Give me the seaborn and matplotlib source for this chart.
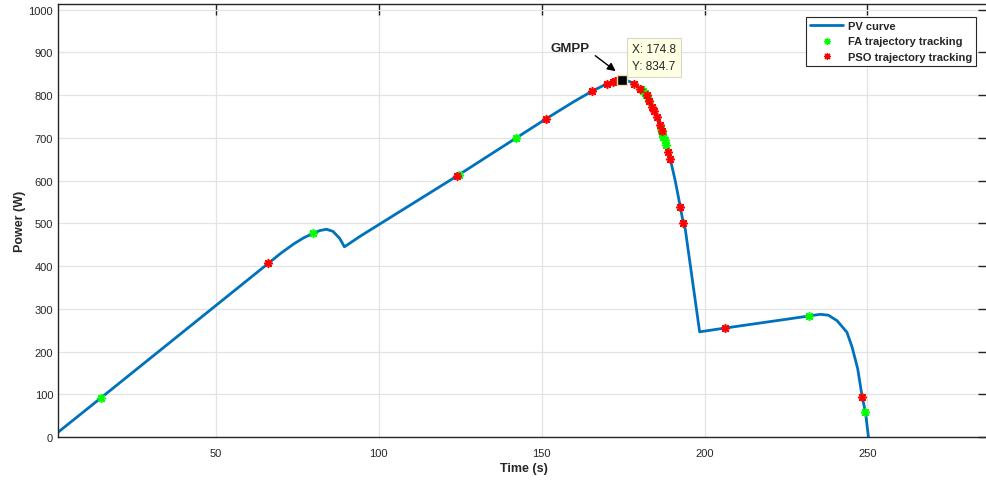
import matplotlib
matplotlib.use("Agg")
import matplotlib.pyplot as plt
from matplotlib.lines import Line2D
from matplotlib.markers import MarkerStyle
import seaborn as sns
import pandas as pd

# PV power curve swept over time (s, W)
pv_time = [1.6, 14.7, 66.1, 70.0, 74.0, 77.0, 79.8, 82.0, 84.0, 86.0, 88.0, 89.5,
           94.4, 123.9, 142.3, 151.5, 160.0, 165.5, 170.2, 172.4, 174.8, 176.5,
           178.5, 180.3, 182.2, 184.0, 185.5, 186.8, 188.0, 188.9, 189.5, 191.0,
           192.6, 193.5, 194.1, 198.5, 206.4, 232.0, 235.5, 238.0, 240.7, 243.7,
           245.3, 247.0, 248.4, 249.4, 250.3]
pv_power = [11, 91, 406, 430, 452, 466, 476, 483, 486, 481, 465, 445,
            470, 610, 700, 745, 785, 809, 827, 833, 834.7, 833,
            827, 815, 799, 771, 748, 715, 690, 666, 650, 600,
            537, 500, 486, 246, 255, 283, 287, 285, 272, 245,
            210, 160, 93, 58, 0]

# Firefly algorithm operating points
fa_time = [14.7, 79.8, 124.6, 142.3, 180.6, 181.1, 181.6, 182.1, 182.6, 183.0,
           186.6, 187.0, 187.4, 187.8, 188.2, 232.0, 249.4]
fa_power = [91, 478, 614, 700, 813, 809, 804, 800, 793, 787,
            720, 711, 702, 694, 684, 283, 58]

# PSO operating points
pso_time = [66.1, 123.9, 151.5, 165.5, 170.2, 171.8, 172.4, 173.3, 178.5, 180.3,
            182.2, 183.1, 184.0, 184.6, 185.5, 186.2, 186.8, 188.9, 189.5, 192.6,
            193.5, 206.4, 248.4]
pso_power = [406, 610, 745, 809, 827, 831, 834, 835, 827, 815,
             799, 786, 771, 762, 748, 731, 715, 666, 650, 537,
             500, 255, 93]

gmpp_t, gmpp_p = 174.8, 834.7
x_ticks = [50, 100, 150, 200, 250]
y_ticks = list(range(0, 1001, 100))

sns.set_theme(style="whitegrid")
plt.rcParams["font.family"] = ["Liberation Sans", "DejaVu Sans"]

fig = plt.figure(figsize=(9.87, 4.81), dpi=100)
ax = fig.add_axes([58 / 987, 43 / 481, (989 - 58) / 987, (438 - 5) / 481])

blue = "#0072BD"
pv_df = pd.DataFrame({"t": pv_time, "p": pv_power})
sns.lineplot(data=pv_df, x="t", y="p", sort=False, color=blue, linewidth=2.0,
             ax=ax, zorder=2)

star = MarkerStyle((8, 2, 0))
fa_df = pd.DataFrame({"t": fa_time, "p": fa_power})
pso_df = pd.DataFrame({"t": pso_time, "p": pso_power})
sns.scatterplot(data=fa_df, x="t", y="p", marker=star, color="#00FF00",
                edgecolor="#00FF00", s=30, linewidth=1.2, ax=ax, zorder=3)
sns.scatterplot(data=pso_df, x="t", y="p", marker=star, color="#FF0000",
                edgecolor="#FF0000", s=30, linewidth=1.2, ax=ax, zorder=4)

# Global maximum power point with its data tip
ax.plot([gmpp_t], [gmpp_p], marker="s", markersize=7, color="black",
        markeredgecolor="#e8e2b0", markeredgewidth=1.0, zorder=6)
ax.text(gmpp_t + 3.0, gmpp_p + 86, f"X: {gmpp_t}\nY: {gmpp_p}", fontsize=8.5,
        ha="left", va="top", linespacing=1.45, zorder=7,
        bbox=dict(boxstyle="square,pad=0.45", facecolor="#ffffe4",
                  edgecolor="#d8d8c8", linewidth=0.8))
ax.annotate("", xy=(173.4, 852), xytext=(165.8, 896),
            arrowprops=dict(arrowstyle="-|>", color="black", lw=1.0,
                            mutation_scale=12), zorder=7)
ax.text(158.8, 909, "GMPP", fontsize=9.5, fontweight="bold", ha="center",
        va="center", zorder=7)

ax.set_xlim(1.6, 287.3)
ax.set_ylim(0, 1013)
ax.set_xticks(x_ticks)
ax.set_yticks(y_ticks)
ax.tick_params(axis="both", direction="in", length=8, width=1.0,
               labelsize=8, labelcolor="#262626", color="#262626",
               top=True, right=True)
ax.tick_params(axis="x", pad=8)
ax.grid(True, color="#e3e3e3", linewidth=0.9)
for side in ["left", "bottom", "top", "right"]:
    ax.spines[side].set_visible(True)
    ax.spines[side].set_color("#262626")
    ax.spines[side].set_linewidth(1.0)
ax.set_xlabel("Time (s)", fontsize=9, fontweight="bold", labelpad=3)
ax.set_ylabel("Power (W)", fontsize=9, fontweight="bold", labelpad=2)

handles = [
    Line2D([0], [0], color=blue, linewidth=2.0),
    Line2D([0], [0], linestyle="none", marker=star, color="#00FF00",
           markersize=5, markeredgewidth=0.9),
    Line2D([0], [0], linestyle="none", marker=star, color="#FF0000",
           markersize=5, markeredgewidth=0.9),
]
labels = ["PV curve", "FA trajectory tracking", "PSO trajectory tracking"]
leg = ax.legend(handles, labels, loc="upper left",
                bbox_to_anchor=(806 / 987, 1 - 18 / 481),
                bbox_transform=fig.transFigure, fancybox=False,
                framealpha=1, edgecolor="#262626", handlelength=3.0,
                borderpad=0.35, labelspacing=0.5, handletextpad=0.4,
                borderaxespad=0, prop={"size": 8, "weight": "bold"})
leg.get_frame().set_linewidth(0.8)

fig.savefig("out.png", dpi=100)
